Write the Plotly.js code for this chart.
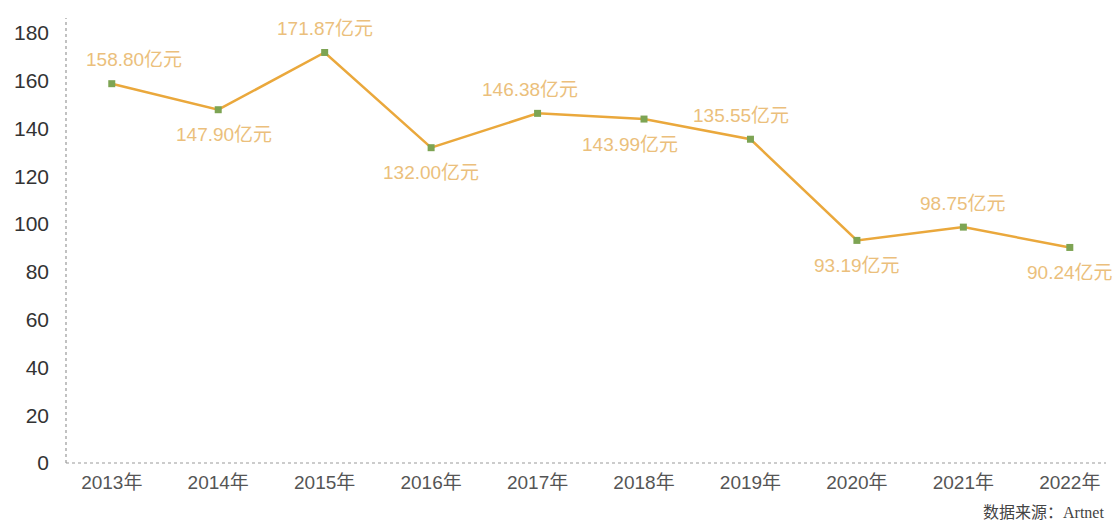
<!DOCTYPE html>
<html><head><meta charset="utf-8">
<script src="https://cdn.plot.ly/plotly-3.0.1.min.js"></script>
<style>html,body{margin:0;padding:0;background:#fff}#chart{width:1116px;height:527px}</style>
</head><body><div id="chart"></div>
<script>
const years = ["2013年","2014年","2015年","2016年","2017年","2018年","2019年","2020年","2021年","2022年"];
const values = [158.80,147.90,171.87,132.00,146.38,143.99,135.55,93.19,98.75,90.24];
const labelAbove = [true,false,true,false,true,false,true,false,true,false];
const labelXShift = [22,6,0,0,-8,-14,-9,0,0,0];
const yTicks = [0,20,40,60,80,100,120,140,160,180];
const sourceNote = "数据来源：Artnet";

const cjk = "'Liberation Sans', 'Noto Sans CJK SC', sans-serif";

const trace = {
  type: "scatter", mode: "lines+markers",
  x: years, y: values,
  line: {color: "#EAA83C", width: 2.5},
  marker: {symbol: "square", size: 7, color: "#7DA453"},
  cliponaxis: false, hoverinfo: "skip"
};

const valueAnnotations = values.map((v, i) => ({
  x: years[i], y: v, xref: "x", yref: "y", showarrow: false,
  text: v.toFixed(2) + "亿元",
  yshift: labelAbove[i] ? 24 : -25, xshift: labelXShift[i],
  font: {family: cjk, size: 19, color: "#EBBF7C"}
}));

const layout = {
  width: 1116, height: 527,
  margin: {l: 66, r: 10, t: 18, b: 64},
  paper_bgcolor: "#fff", plot_bgcolor: "#fff",
  showlegend: false,
  xaxis: {type: "category", range: [-0.43, 9.34], showgrid: false, zeroline: false, showline: false,
          ticks: "", tickfont: {family: cjk, size: 19, color: "#555"}, ticklabelstandoff: 6},
  yaxis: {range: [0, 186.3], tickvals: yTicks, showgrid: false, zeroline: false, showline: false,
          ticks: "", tickfont: {family: cjk, size: 21, color: "#333"}, ticklabelstandoff: 16},
  shapes: [
    {type: "line", xref: "paper", yref: "paper", x0: 0, x1: 0, y0: 0, y1: 1, line: {color: "#999", width: 1.2, dash: "dot"}},
    {type: "line", xref: "paper", yref: "paper", x0: 0, x1: 1, y0: 0, y1: 0, line: {color: "#999", width: 1.2, dash: "dot"}}
  ],
  annotations: valueAnnotations.concat([
    {xref: "paper", yref: "paper", x: 1.0, y: -0.112, xanchor: "right", yanchor: "middle", showarrow: false,
     text: sourceNote, font: {family: "'Liberation Serif', 'Noto Sans CJK SC', serif", size: 16, color: "#444"}}
  ])
};
Plotly.newPlot("chart", [trace], layout, {displayModeBar: false, staticPlot: true});
</script></body></html>
